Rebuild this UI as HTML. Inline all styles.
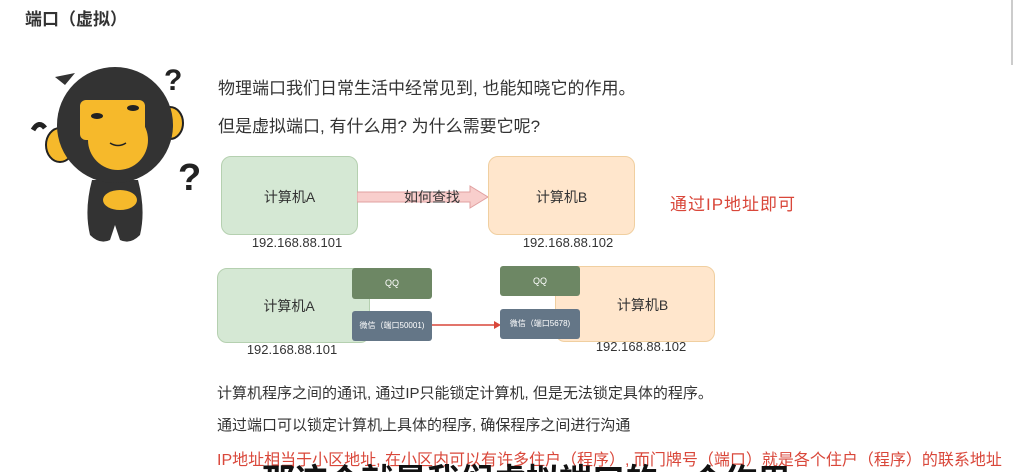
<!DOCTYPE html>
<html><head><meta charset="utf-8"><style>
html,body{margin:0;width:1017px;height:472px;overflow:hidden}
body{background:#fff;position:relative;font-family:"Liberation Sans","Noto Sans CJK SC",sans-serif;color:#333}
.a{position:absolute;white-space:nowrap}
.box{position:absolute;border-radius:10px;box-sizing:border-box}
.g{background:#d5e8d4;border:1px solid #b5d0b0}
.o{background:#ffe6cc;border:1px solid #f0cfa0}
.qq{position:absolute;background:#6d8764;color:#fff;font-size:9px;text-align:center;border-radius:3px}
.wx{position:absolute;background:#647687;color:#fff;font-size:8px;text-align:center;border-radius:3px}
</style></head><body>
<div class="a" style="left:25px;top:5px;font-size:17px;font-weight:bold;color:#333">端口（虚拟）</div>
<div style="position:absolute;left:1011px;top:0;width:2px;height:65px;background:#ccc"></div>

<svg class="a" style="left:0;top:0" width="220" height="260">
 <text x="164" y="90" font-size="30" font-weight="bold" fill="#222" font-family="Liberation Sans">?</text>
 <text x="178" y="190" font-size="38" font-weight="bold" fill="#222" font-family="Liberation Sans">?</text>
 <path d="M33 130 q6 -10 12 -2" stroke="#222" stroke-width="5" fill="none"/>
 <ellipse cx="60" cy="145" rx="14" ry="17" fill="#f6b92b" stroke="#222" stroke-width="2"/>
 <ellipse cx="170" cy="123" rx="13" ry="16" fill="#f6b92b" stroke="#222" stroke-width="2"/>
 <path d="M92 180 q-8 30 -2 55 q10 10 20 5 l5 -15 l5 15 q10 5 20 -5 q6 -25 -2 -55 z" fill="#333"/>
 <ellipse cx="120" cy="200" rx="17" ry="10" fill="#f6b92b"/>
 <circle cx="115" cy="125" r="58" fill="#333"/>
 <path d="M65 85 l-10 -8 l20 -4 z" fill="#333"/>
 <rect x="80" y="100" width="65" height="40" rx="6" fill="#f6b92b"/>
 <circle cx="118" cy="140" r="30" fill="#f6b92b"/>
 <path d="M110 143 q8 5 16 0" stroke="#222" stroke-width="1.5" fill="none"/>
 <ellipse cx="97" cy="116" rx="6" ry="3" fill="#222"/>
 <ellipse cx="133" cy="108" rx="6" ry="3" fill="#222"/>
</svg>

<div class="a" style="left:218px;top:74px;font-size:17px">物理端口我们日常生活中经常见到, 也能知晓它的作用。</div>
<div class="a" style="left:218px;top:112px;font-size:17px">但是虚拟端口, 有什么用? 为什么需要它呢?</div>

<div class="box g" style="left:221px;top:156px;width:137px;height:79px"></div>
<div class="a" style="left:221px;top:187px;width:137px;text-align:center;font-size:14px">计算机A</div>
<div class="a" style="left:237px;top:235px;width:120px;text-align:center;font-size:13px">192.168.88.101</div>
<svg class="a" style="left:357px;top:184px" width="133" height="26">
 <path d="M0 8 H113 V2 L131 13 L113 24 V18 H0 Z" fill="#f8cecc" stroke="#e0a0a0"/>
</svg>
<div class="a" style="left:404px;top:187px;font-size:14px">如何查找</div>
<div class="box o" style="left:488px;top:156px;width:147px;height:79px"></div>
<div class="a" style="left:488px;top:187px;width:147px;text-align:center;font-size:14px">计算机B</div>
<div class="a" style="left:508px;top:235px;width:120px;text-align:center;font-size:13px">192.168.88.102</div>
<div class="a" style="left:670px;top:190px;font-size:17px;color:#d9473a;letter-spacing:1px">通过IP地址即可</div>

<div class="box g" style="left:217px;top:268px;width:153px;height:75px"></div>
<div class="a" style="left:230px;top:296px;width:118px;text-align:center;font-size:14px">计算机A</div>
<div class="qq" style="left:352px;top:268px;width:80px;height:31px;line-height:31px">QQ</div>
<div class="wx" style="left:352px;top:311px;width:80px;height:30px;line-height:30px">微信（端口50001)</div>
<div class="a" style="left:232px;top:342px;width:120px;text-align:center;font-size:13px">192.168.88.101</div>
<svg class="a" style="left:432px;top:319px" width="70" height="12">
 <line x1="0" y1="6" x2="62" y2="6" stroke="#d9473a" stroke-width="1.5"/>
 <path d="M62 2 L69 6 L62 10 Z" fill="#d9473a"/>
</svg>
<div class="box o" style="left:555px;top:266px;width:160px;height:76px"></div>
<div class="a" style="left:580px;top:295px;width:125px;text-align:center;font-size:14px">计算机B</div>
<div class="qq" style="left:500px;top:266px;width:80px;height:30px;line-height:30px">QQ</div>
<div class="wx" style="left:500px;top:309px;width:80px;height:30px;line-height:30px">微信（端口5678)</div>
<div class="a" style="left:581px;top:339px;width:120px;text-align:center;font-size:13px">192.168.88.102</div>

<div class="a" style="left:217px;top:382px;font-size:15px">计算机程序之间的通讯, 通过IP只能锁定计算机, 但是无法锁定具体的程序。</div>
<div class="a" style="left:217px;top:414px;font-size:15px">通过端口可以锁定计算机上具体的程序, 确保程序之间进行沟通</div>
<div class="a" style="left:217px;top:446px;font-size:16px;color:#d9473a">IP地址相当于小区地址, 在小区内可以有许多住户（程序）, 而门牌号（端口）就是各个住户（程序）的联系地址</div>
<div class="a" style="left:262px;top:454px;font-size:33px;font-weight:bold;color:#111">那这个就是我们虚拟端口的一个作用</div>
</body></html>
